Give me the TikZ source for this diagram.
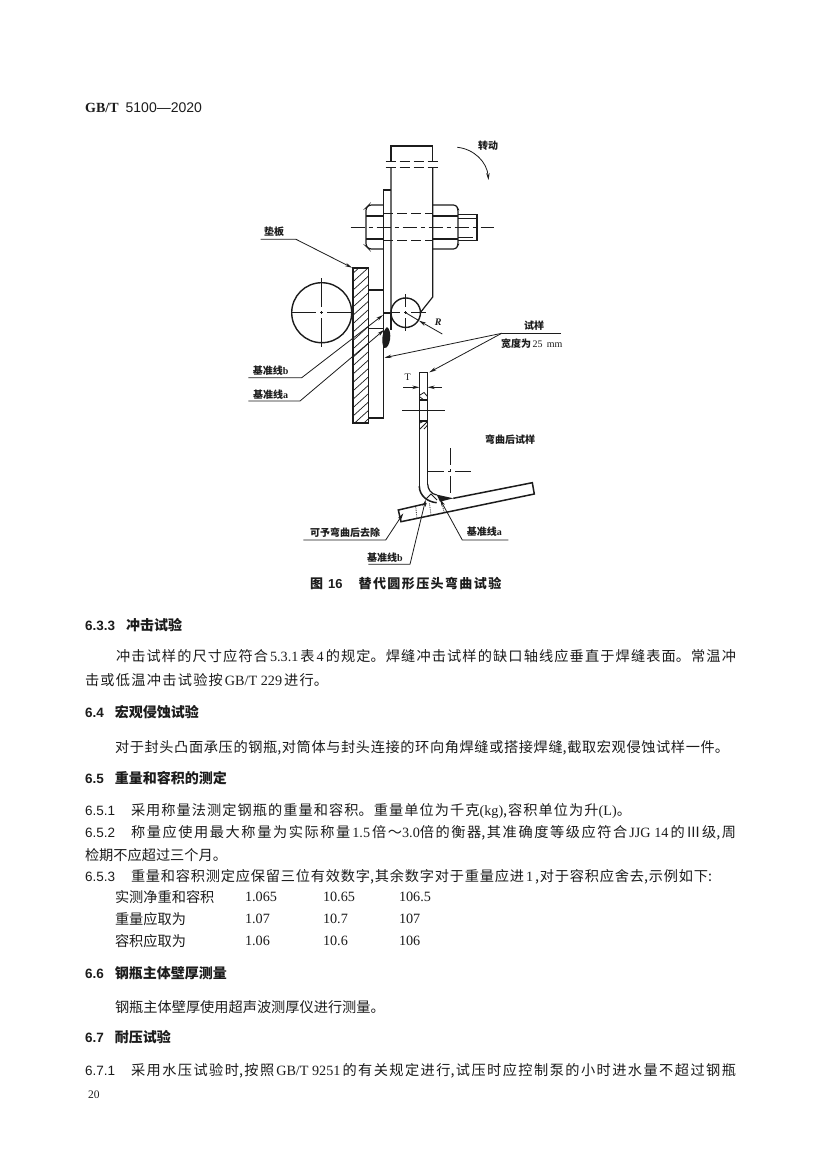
\documentclass[tikz,border=0pt]{standalone}
\usepackage{fontspec}
\usetikzlibrary{arrows.meta,patterns}
\setmainfont{Noto Sans CJK SC}
\newfontfamily\latf{Liberation Serif}
\newfontfamily\sanf{Liberation Sans}
\XeTeXlinebreaklocale "zh"
\XeTeXlinebreakskip=0pt plus 4pt minus 0.4pt
\newcommand\LT[1]{\mbox{\latf #1}}
\newcommand\GL[1]{\hspace{2pt}\mbox{\latf #1}\hspace{2pt}}
\newcommand\BODY{\fontsize{14.2}{16}\selectfont}
% justified single line: name, x, y, width, text
\newcommand\JL[5]{\node[anchor=west,inner sep=0pt,outer sep=0pt,text=ink] (#1) at (#2,#3) {\parbox{#4pt}{\BODY\tolerance=10000\hbadness=10000\hfuzz=20pt\parfillskip=0pt\relax #5}};}
\newcommand\PL[4]{\node[anchor=west,inner sep=0pt,outer sep=0pt,text=ink] (#1) at (#2,#3) {\BODY #4};}
\newcommand\NM[4]{\node[anchor=west,inner sep=0pt,outer sep=0pt,text=ink,font=\fontsize{13.5}{15}\selectfont\sanf] (#1) at (#2,#3) {#4};}
\newcommand\HD[4]{\node[anchor=west,inner sep=0pt,outer sep=0pt,text=ink,font=\fontsize{14}{16}\selectfont\bfseries] (#1) at (#2,#3) {#4};}
\newcommand\HN[1]{{\sanf\fontsize{13.5}{15}\selectfont #1}}
\definecolor{ink}{HTML}{1c1c1c}
\tikzset{
 part/.style={draw=ink,line width=1.2pt},
 thick part/.style={draw=ink,line width=1.5pt},
 leader/.style={draw=ink,line width=0.8pt},
 arrowed/.style={draw=ink,line width=0.8pt,-{Stealth[length=7pt,width=3.5pt]}},
 centre/.style={draw=ink,line width=0.7pt,dash pattern=on 14pt off 4pt on 4pt off 4pt},
 cross/.style={draw=ink,line width=0.7pt,dash pattern=on #1 off 4pt on 3pt off 4pt on 200pt off 0pt},
 hidden/.style={draw=ink,line width=0.9pt,dash pattern=on 10pt off 4pt},
 lbl/.style={inner sep=0pt,outer sep=0pt,text=ink,font=\fontsize{10}{12}\selectfont\bfseries},
}
\begin{document}
\begin{tikzpicture}[x=1pt,y=-1pt]
\fill[white] (0,0) rectangle (827,1170);
% header
\node[anchor=west,inner sep=0pt,text=ink,font=\fontsize{14}{16}\selectfont\bfseries] (hdr) at (85,108) {\latf GB/T\hspace{7pt}\sanf\mdseries 5100—2020};
% ---- shaft
\draw[thick part] (391,161) -- (391,146) -- (432.7,146) -- (432.7,161);
\draw[hidden] (385.7,161) -- (437.7,161);
\draw[hidden] (385.7,167.7) -- (437.7,167.7);
\draw[part] (391,167.7) -- (391,312.7) (432.7,167.7) -- (432.7,297) -- (420,313);
% thin plate
\draw[thick part] (391,190) -- (383.4,190) -- (383.4,418) -- (368.3,418);
\draw[thick part] (391,312.7) -- (391,330);
\draw[part] (368.3,290) -- (383.4,290);
\draw[part] (368.3,328.3) -- (383.4,328.3) (383.4,313) -- (391,313);
% hatched plate
\fill[white] (353,268) rectangle (368.3,423);
\begin{scope}
 \clip (353,268) rectangle (368.3,423);
 \foreach \k in {0,...,19} \draw[ink,line width=0.7pt] (350,{276+\k*8.4}) -- (372,{276+\k*8.4-20});
\end{scope}
\draw[thick part] (353,268) rectangle (368.3,423);
% rollers
\node[draw=ink,line width=1.4pt,circle,minimum size=60pt,inner sep=0pt] (bigr) at (321.7,312.7) {};
\node[draw=ink,line width=1.4pt,circle,minimum size=29.5pt,inner sep=0pt] (smallr) at (405.7,312.7) {};
\draw[cross=24.5pt] (291.7,312.7) -- (351.7,312.7);
\draw[cross=29.2pt] (321.7,278) -- (321.7,347.4);
\draw[cross=14.5pt] (385.7,312.7) -- (425.7,312.7);
\draw[cross=13pt] (405.7,294) -- (405.7,331);
% weld
\fill[ink] (387,327) .. controls (393,331) and (390,349) .. (384.3,348) .. controls (381,344) and (381.5,332) .. (387,327) -- cycle;
% bolt
\draw[part,rounded corners=2.5pt] (383.4,205) -- (369,205) -- (366,208) -- (366,246) -- (369,249) -- (383.4,249);
\draw[part] (366,216) -- (383.4,216) (366,239) -- (383.4,239);
\draw[part,rounded corners=2.5pt] (433,205) -- (456,205) -- (458,209) -- (458,245) -- (456,249) -- (433,249);
\draw[part] (433,216) -- (458,216) (433,239) -- (458,239);
\draw[part] (458,214.3) -- (477,214.3) -- (477,240.7) -- (458,240.7);
\draw[leader] (458,218) -- (477,218) (458,237.5) -- (473,237.5);
\draw[hidden] (383.4,213.7) -- (433,213.7);
\draw[hidden] (383.4,240.7) -- (433,240.7);
\draw[centre] (350.7,227.3) -- (494,227.3);
% rotation
\coordinate (rotA) at (457.3,147.3);
\coordinate (rotB) at (488.5,180);
\draw[arrowed] (rotA) .. controls (474,149) and (487,162) .. (rotB);
\node[lbl] (trans) at (488,146) {转动};
% pad label
\node[lbl] (pad) at (274,231.5) {垫板};
\coordinate (padA) at (260.7,239.3);
\coordinate (padB) at (296,239.3);
\coordinate (padC) at (352,267.7);
\draw[arrowed] (padA) -- (padB) -- (padC);
% R
\coordinate (rC) at (405.7,312.7);
\coordinate (rE) at (442.3,334);
\coordinate (rT) at (419,320.7);
\draw[leader] (rC) -- (rT);
\draw[arrowed] (rE) -- (rT);
\node[inner sep=0pt,text=ink,font=\fontsize{10}{12}\selectfont\latf\itshape\bfseries] (rl) at (438.3,322.5) {R};
% specimen label
\node[lbl] (spec) at (534,325.7) {试样};
\node[lbl,anchor=west] (wid) at (501,343.5) {宽度为{\latf\mdseries\,25\, mm}};
\coordinate (specA) at (561,333.3);
\coordinate (specB) at (501.7,333.3);
\coordinate (specC) at (384.5,357.7);
\coordinate (specD) at (429.3,372.3);
\draw[leader] (specA) -- (specB);
\draw[arrowed] (specB) -- (specC);
\draw[arrowed] (specB) -- (specD);
% datum lines, upper
\node[lbl] (bu) at (270.7,371) {基准线{\latf b}};
\coordinate (buA) at (248.3,377.7);
\coordinate (buB) at (301.7,377.7);
\coordinate (buC) at (383,315);
\draw[arrowed] (buA) -- (buB) -- (buC);
\node[lbl] (au) at (270.7,394.3) {基准线{\latf a}};
\coordinate (auA) at (248.3,401);
\coordinate (auB) at (300,401);
\coordinate (auC) at (384,330);
\draw[arrowed] (auA) -- (auB) -- (auC);
% bent specimen
\draw[thick part] (419.3,486) -- (419.3,372.3) -- (427.7,372.3) -- (427.7,484);
\draw[thick part] (419.3,486) .. controls (419.3,496) and (428,502) .. (436.7,502.7);
\draw[part] (427.7,484) .. controls (427.7,489) and (431,494) .. (436.7,495);
\draw[thick part] (453.3,498.3) -- (532.3,482.7) -- (534.3,494) -- (401,521.7) -- (398.3,510) -- (426.5,503.5);
\fill[ink] (436.7,494.6) -- (453.3,498.3) -- (440,501.7) -- cycle;
\draw[part] (419.3,400) -- (427.7,400) (419.3,421) -- (427.7,421);
\draw[leader] (420,395) -- (424,392.5) -- (427.5,396.5) (420,397) -- (424,400);
\draw[leader] (420,429) -- (427.5,421.5) (420,423) -- (424,421) (424,429) -- (427.7,425);
\draw[leader,densely dotted] (415.7,506.7) -- (417,518.5) (429.5,503.5) -- (431,515);
\draw[leader,densely dotted] (441.5,501) -- (444,512);
\draw[leader] (425.7,499.3) -- (431,494) -- (437,500);
% T dimension
\node[inner sep=0pt,text=ink,font=\fontsize{10}{11}\selectfont\latf] (tl) at (407.7,377.7) {T};
\coordinate (tA) at (403.3,387.3);
\coordinate (tB) at (419.3,387.3);
\coordinate (tC) at (441.7,387.3);
\coordinate (tD) at (427.7,387.3);
\draw[arrowed] (tA) -- (tB);
\draw[arrowed] (tC) -- (tD);
\draw[leader] (402.3,410.7) -- (445,410.7);
\draw[cross=16pt] (428.3,471) -- (471,471);
\draw[cross=17pt] (450,448.3) -- (450,493);
\node[lbl] (bent) at (510,440) {弯曲后试样};
% lower labels
\node[lbl] (rem) at (345,532.3) {可予弯曲后去除};
\coordinate (remA) at (303.3,540);
\coordinate (remB) at (385.7,540);
\coordinate (remC) at (403.3,513.3);
\draw[arrowed] (remA) -- (remB) -- (remC);
\node[lbl] (bl) at (385,557.3) {基准线{\latf b}};
\coordinate (blA) at (368.3,564.3);
\coordinate (blB) at (410,564.3);
\coordinate (blC) at (425.7,499.5);
\draw[arrowed] (blA) -- (blB) -- (blC);
\node[lbl] (al) at (484.3,531.7) {基准线{\latf a}};
\coordinate (alA) at (508.3,540);
\coordinate (alB) at (462.3,540);
\coordinate (alC) at (440,499.3);
\draw[arrowed] (alA) -- (alB) -- (alC);
% caption
\node[inner sep=0pt,text=ink,font=\fontsize{13}{15}\selectfont\bfseries,anchor=west] (cap) at (310,584) {图\hspace{5pt}{\sanf 16}\hspace{16pt}替\hspace{1.4pt}代\hspace{1.4pt}圆\hspace{1.4pt}形\hspace{1.4pt}压\hspace{1.4pt}头\hspace{1.4pt}弯\hspace{1.4pt}曲\hspace{1.4pt}试\hspace{1.4pt}验};
% ---- text
\HD{h1}{85}{625}{\HN{6.3.3}\hspace{11pt}冲击试验}
\JL{t1}{116}{656}{620}{冲击试样的尺寸应符合\GL{5.3.1}表\GL{4}的规定。焊缝冲击试样的缺口轴线应垂直于焊缝表面。常温冲}
\JL{t2}{85}{680}{243}{击或低温冲击试验按\GL{GB/T 229}进行。}
\HD{h2}{85}{712}{\HN{6.4}\hspace{11pt}宏观侵蚀试验}
\JL{t3}{115}{748}{614}{对于封头凸面承压的钢瓶,对筒体与封头连接的环向角焊缝或搭接焊缝,截取宏观侵蚀试样一件。}
\HD{h3}{85}{778}{\HN{6.5}\hspace{11pt}重量和容积的测定}
\NM{n1}{85}{811}{6.5.1}
\JL{t4}{131}{811}{500}{采用称量法测定钢瓶的重量和容积。重量单位为千克\LT{(kg)},容积单位为升\LT{(L)}。}
\NM{n2}{85}{833}{6.5.2}
\JL{t5}{131}{833}{605}{称量应使用最大称量为实际称量\GL{1.5}倍～\LT{3.0}倍的衡器,其准确度等级应符合\GL{JJG 14}的Ⅲ级,周}
\PL{t6}{85}{855}{检期不应超过三个月。}
\NM{n3}{85}{877}{6.5.3}
\JL{t7}{131}{877}{581}{重量和容积测定应保留三位有效数字,其余数字对于重量应进\GL{1},对于容积应舍去,示例如下:}
\PL{r1a}{115}{897}{实测净重和容积}
\PL{r1b}{245}{897}{\LT{1.065}}
\PL{r1c}{323}{897}{\LT{10.65}}
\PL{r1d}{399}{897}{\LT{106.5}}
\PL{r2a}{115}{919}{重量应取为}
\PL{r2b}{245}{919}{\LT{1.07}}
\PL{r2c}{323}{919}{\LT{10.7}}
\PL{r2d}{399}{919}{\LT{107}}
\PL{r3a}{115}{941}{容积应取为}
\PL{r3b}{245}{941}{\LT{1.06}}
\PL{r3c}{323}{941}{\LT{10.6}}
\PL{r3d}{399}{941}{\LT{106}}
\HD{h4}{85}{973}{\HN{6.6}\hspace{11pt}钢瓶主体壁厚测量}
\PL{t8}{115}{1007}{钢瓶主体壁厚使用超声波测厚仪进行测量。}
\HD{h5}{85}{1037}{\HN{6.7}\hspace{11pt}耐压试验}
\NM{n4}{85}{1071}{6.7.1}
\JL{t9}{131}{1071}{605}{采用水压试验时,按照\GL{GB/T 9251}的有关规定进行,试压时应控制泵的小时进水量不超过钢瓶}
\node[anchor=west,inner sep=0pt,text=ink,font=\fontsize{11.5}{13}\selectfont\latf] (pg) at (88,1095) {20};
\end{tikzpicture}
\end{document}
